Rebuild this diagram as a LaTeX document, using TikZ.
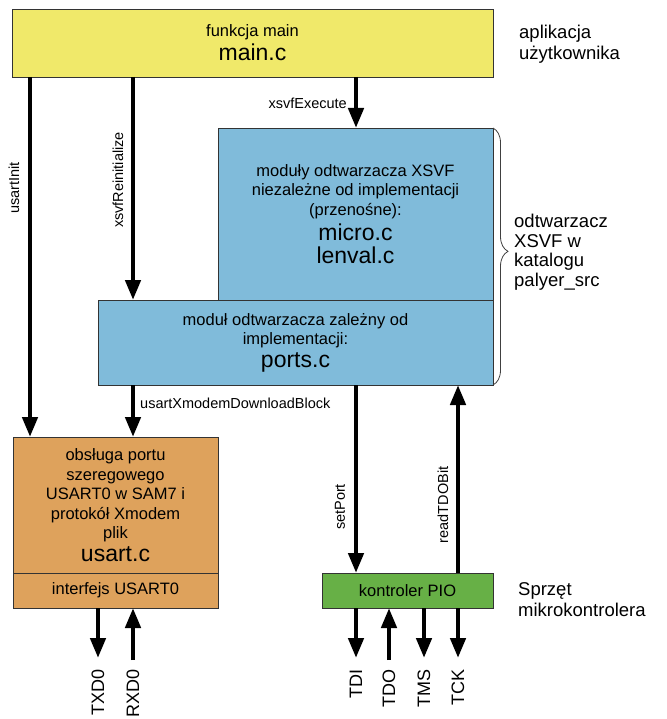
\documentclass[tikz,border=0pt]{standalone}
\usepackage{fontspec}
\setmainfont{Liberation Sans}
\usetikzlibrary{arrows.meta,decorations.pathreplacing}
\definecolor{cyellow}{HTML}{F0E96A}
\definecolor{cblue}{HTML}{80BBDA}
\definecolor{corange}{HTML}{DEA25C}
\definecolor{cgreen}{HTML}{67B046}
\definecolor{cedge}{HTML}{333333}
\newcommand\bodyf{\fontsize{16.5}{19.5}\selectfont}
\newcommand\bigf{\fontsize{23}{25}\selectfont}
\newcommand\lblf{\fontsize{14.5}{17}\selectfont}
\newcommand\pinf{\fontsize{18}{20}\selectfont}
\newcommand\sidef{\fontsize{18.5}{21}\selectfont}
\newcommand\sidegf{\fontsize{18.5}{19.5}\selectfont}
\begin{document}
\begin{tikzpicture}[x=1pt,y=-1pt,
  box/.style={draw=cedge, line width=0.9pt, inner sep=0pt, outer sep=0pt, align=center, font=\bodyf},
  arr/.style={line width=4.5pt, -{Triangle[length=20pt,width=15pt]}},
  lbl/.style={font=\lblf, inner sep=0pt},
  pin/.style={font=\pinf, rotate=90, anchor=east, inner sep=0pt},
  side/.style={font=\sidef, align=left, anchor=west, inner sep=0pt}]
\useasboundingbox (0,0) rectangle (666,719);

% boxes
\node[box, fill=cyellow, minimum width=481pt, minimum height=68pt] (main) at (252.5,43)
  {funkcja main\\[3pt]{\bigf main.c}};
\node[box, fill=cblue, minimum width=275pt, minimum height=172pt] (players) at (355.5,214)
  {moduły odtwarzacza XSVF\\niezależne od implementacji\\(przenośne):\\[4pt]{\bigf micro.c}\\[4pt]{\bigf lenval.c}};
\node[box, fill=cblue, minimum width=395pt, minimum height=85pt] (ports) at (295.5,342.5)
  {moduł odtwarzacza zależny od\\implementacji:\\[3pt]{\bigf ports.c}};
\node[box, fill=corange, minimum width=205pt, minimum height=136pt] (usart) at (115.5,505)
  {obsługa portu\\szeregowego\\USART0 w SAM7 i\\protokół Xmodem\\plik\\[3pt]{\bigf usart.c}};
\node[box, fill=corange, minimum width=205pt, minimum height=35pt] (usartif) at (115.5,590.5)
  {interfejs USART0};
\node[box, fill=cgreen, minimum width=171pt, minimum height=35pt] (pio) at (407.5,590.5)
  {kontroler PIO};

% connector labels
\node[lbl, rotate=90] (lInit) at (14,188) {usartInit};
\node[lbl, rotate=90] (lReinit) at (118,180) {xsvfReinitialize};
\node[lbl, anchor=east] (lExec) at (347,103) {xsvfExecute};
\node[lbl, anchor=west] (lXmodem) at (140,403) {usartXmodemDownloadBlock};
\node[lbl, rotate=90] (lSet) at (340,507) {setPort};
\node[lbl, rotate=90] (lRead) at (443,505) {readTDOBit};

% pins
\node[pin] (txd) at (98,669) {TXD0};
\node[pin] (rxd) at (133,669) {RXD0};
\node[pin] (tdi) at (356,669) {TDI};
\node[pin] (tdo) at (389,669) {TDO};
\node[pin] (tms) at (424,669) {TMS};
\node[pin] (tck) at (458,669) {TCK};

% columns
\coordinate (xA) at (30,0);
\coordinate (xB) at (133,0);
\coordinate (xC) at (356,0);
\coordinate (xD) at (458,0);

% connectors
\draw[arr] (main.south -| xA) -- (usart.north -| xA);
\draw[arr] (main.south -| xB) -- (ports.north -| xB);
\draw[arr] (main.south -| xC) -- (players.north -| xC);
\draw[arr] (ports.south -| xB) -- (usart.north -| xB);
\draw[arr] (ports.south -| xC) -- (pio.north -| xC);
\draw[arr] (pio.north -| xD) -- (ports.south -| xD);
\draw[arr, shorten >=11pt] (usartif.south -| txd.east) -- (txd.east);
\draw[arr, shorten <=9pt] (rxd.east) -- (usartif.south -| rxd.east);
\draw[arr, shorten >=11pt] (pio.south -| tdi.east) -- (tdi.east);
\draw[arr, shorten <=9pt] (tdo.east) -- (pio.south -| tdo.east);
\draw[arr, shorten >=11pt] (pio.south -| tms.east) -- (tms.east);
\draw[arr, shorten >=11pt] (pio.south -| tck.east) -- (tck.east);

% brace
\draw[decorate, decoration={brace, amplitude=15pt, aspect=0.48}, line width=0.8pt, draw=black!75]
  (players.north east) -- (ports.south east);

% side labels
\node[side] (sApp) at (519,44) {aplikacja\\użytkownika};
\node[side, font=\sidegf] (sPlayer) at (514,252) {odtwarzacz\\XSVF w\\katalogu\\palyer\_src};
\node[side] (sHw) at (518,600) {Sprzęt\\mikrokontrolera};
\end{tikzpicture}
\end{document}
